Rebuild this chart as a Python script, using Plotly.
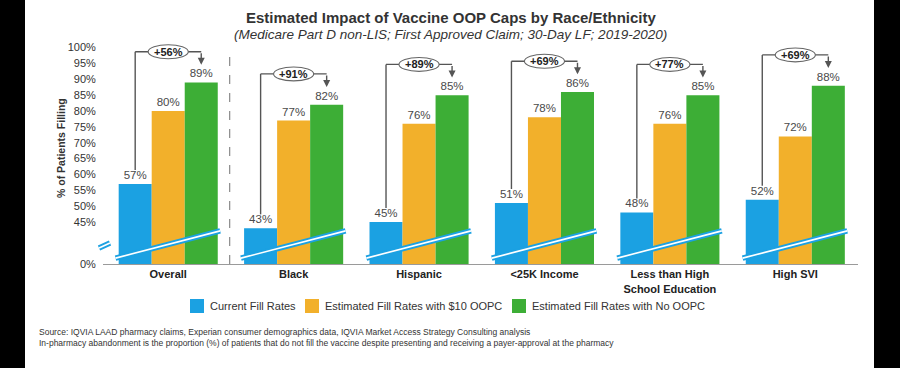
import plotly.graph_objects as go

# ---------------- data ----------------
categories = ["Overall", "Black", "Hispanic", "<25K Income",
              "Less than High<br>School Education", "High SVI"]
category_labels = ["Overall", "Black", "Hispanic", "&lt;25K Income",
                   "Less than High<br>School Education", "High SVI"]
current_fill = [57, 43, 45, 51, 48, 52]
fill_10_oopc = [80, 77, 76, 78, 76, 72]
fill_no_oopc = [89, 82, 85, 86, 85, 88]
increase_labels = ["+56%", "+91%", "+89%", "+69%", "+77%", "+69%"]
series_names = ["Current Fill Rates", "Estimated Fill Rates with $10 OOPC",
                "Estimated Fill Rates with No OOPC"]
y_ticks = [45, 50, 55, 60, 65, 70, 75, 80, 85, 90, 95, 100]

colors = ["#1BA1E2", "#F2B02B", "#3DAE36"]

# ---------------- layout constants ----------------
W, H = 900, 368
L, R, T, B = 103, 42, 40, 104
PW, PH = W - L - R, H - T - B
BREAK = 31.75          # axis position where "0%" sits (broken axis)
Y_TOP = 102.4
BARGAP = 0.21
BW = (1 - BARGAP) / 3  # width of one bar in category units
FONT = "Arial, Liberation Sans, Helvetica"


def px(xp):
    return (xp - L) / PW


def py(yp):
    return (H - B - yp) / PH


fig = go.Figure()
for vals, name, col in zip([current_fill, fill_10_oopc, fill_no_oopc], series_names, colors):
    fig.add_trace(go.Bar(
        x=categories, y=vals, name=name, marker=dict(color=col, line=dict(width=0)),
        text=["%d%%" % v for v in vals], texttemplate="%{text}",
        textposition="outside", cliponaxis=False,
        textfont=dict(family=FONT, size=11.5, color="#4a4a4a"),
        showlegend=False, hoverinfo="skip",
    ))

shapes = []
annotations = []

# dashed separator between Overall and the rest
shapes.append(dict(type="line", xref="x", yref="y", x0=0.49, x1=0.49, y0=BREAK, y1=98.5,
                   line=dict(color="#8a8a8a", width=1.2, dash="dash")))

for i in range(len(categories)):
    xb, xo, xg = i - BW, i, i + BW
    yb = fill_no_oopc[i] + 9.7
    # bracket
    shapes.append(dict(type="line", xref="x", yref="y", x0=xb, x1=xg, y0=yb, y1=yb,
                       line=dict(color="#555555", width=1.4)))
    shapes.append(dict(type="line", xref="x", yref="y", x0=xb, x1=xb, y0=yb,
                       y1=current_fill[i] + 4.4, line=dict(color="#555555", width=1.4)))
    annotations.append(dict(x=xg, y=fill_no_oopc[i] + 5.6, ax=xg, ay=yb, axref="x", ayref="y",
                            xref="x", yref="y", text="", showarrow=True, arrowhead=2,
                            arrowsize=1, arrowwidth=1.4, arrowcolor="#555555"))
    # oval with increase label
    shapes.append(dict(type="circle", xref="x", yref="y", x0=xo - 0.16, x1=xo + 0.16,
                       y0=yb - 2.2, y1=yb + 2.2, fillcolor="white",
                       line=dict(color="#666666", width=1.1)))
    annotations.append(dict(x=xo, y=yb, xref="x", yref="y", text="<b>%s</b>" % increase_labels[i],
                            showarrow=False, font=dict(family=FONT, size=11, color="#222")))
    # axis-break band across the bars
    for wdt, col in [(5.5, "#1BA1E2"), (1.6, "white")]:
        shapes.append(dict(type="line", xref="x", yref="y", x0=i - 0.42, x1=i + 0.414,
                           y0=BREAK + 1.85, y1=BREAK + 10.45,
                           line=dict(color=col, width=wdt), layer="above"))

# small break mark on the y axis
for wdt, col in [(5.5, "#1BA1E2"), (1.6, "white")]:
    shapes.append(dict(type="line", xref="paper", yref="paper", x0=px(99), x1=px(110),
                       y0=py(248), y1=py(243), line=dict(color=col, width=wdt)))

# custom legend
leg_y = 306
leg_items = [(190, 208), (305, 323), (512, 530)]
for (sx, tx), name, col in zip(leg_items, series_names, colors):
    shapes.append(dict(type="rect", xref="paper", yref="paper", x0=px(sx), x1=px(sx + 14),
                       y0=py(leg_y + 7), y1=py(leg_y - 7), fillcolor=col, line=dict(width=0)))
    annotations.append(dict(x=px(tx), y=py(leg_y), xref="paper", yref="paper", text=name,
                            showarrow=False, xanchor="left", yanchor="middle",
                            font=dict(family=FONT, size=11, color="#333")))

# black side borders
shapes.append(dict(type="rect", xref="paper", yref="paper", x0=px(0), x1=px(25), y0=py(H), y1=py(0),
                   fillcolor="black", line=dict(width=0)))
shapes.append(dict(type="rect", xref="paper", yref="paper", x0=px(874), x1=px(W), y0=py(H), y1=py(0),
                   fillcolor="black", line=dict(width=0)))

# titles
annotations.append(dict(x=px(451), y=py(18), xref="paper", yref="paper",
                        text="<b>Estimated Impact of Vaccine OOP Caps by Race/Ethnicity</b>",
                        showarrow=False, xanchor="center", yanchor="middle",
                        font=dict(family=FONT, size=15, color="#333")))
annotations.append(dict(x=px(450), y=py(35), xref="paper", yref="paper",
                        text="<i>(Medicare Part D non-LIS; First Approved Claim; 30-Day LF; 2019-2020)</i>",
                        showarrow=False, xanchor="center", yanchor="middle",
                        font=dict(family=FONT, size=13.5, color="#333")))
# y axis title
annotations.append(dict(x=px(53), y=py(148), xref="paper", yref="paper", textangle=-90,
                        text="<b>% of Patients Filling</b>", showarrow=False,
                        font=dict(family=FONT, size=10.5, color="#333")))
# source notes
annotations.append(dict(x=px(37), y=py(339), xref="paper", yref="paper", xanchor="left",
                        text="Source: IQVIA LAAD pharmacy claims, Experian consumer demographics data, IQVIA Market Access Strategy Consulting analysis",
                        showarrow=False, font=dict(family=FONT, size=8.5, color="#333")))
annotations.append(dict(x=px(37), y=py(350), xref="paper", yref="paper", xanchor="left",
                        text="In-pharmacy abandonment is the proportion (%) of patients that do not fill the vaccine despite presenting and receiving a payer-approval at the pharmacy",
                        showarrow=False, font=dict(family=FONT, size=8.5, color="#333")))

fig.update_layout(
    width=W, height=H, margin=dict(l=L, r=R, t=T, b=B, pad=0),
    paper_bgcolor="white", plot_bgcolor="white",
    barmode="group", bargap=BARGAP, bargroupgap=0,
    shapes=shapes, annotations=annotations, showlegend=False,
    xaxis=dict(type="category", categoryorder="array", categoryarray=categories,
               range=[-0.52, 5.5], tickvals=categories,
               ticktext=["<b>%s</b>" % c for c in category_labels],
               tickfont=dict(family=FONT, size=11, color="#222"),
               showline=True, linecolor="#9a9a9a", linewidth=1, ticks="", showgrid=False, zeroline=False),
    yaxis=dict(range=[BREAK, Y_TOP], tickvals=[BREAK] + y_ticks,
               ticktext=["0%"] + ["%d%%" % v for v in y_ticks],
               tickfont=dict(family=FONT, size=11, color="#333"),
               showgrid=False, zeroline=False, showline=False, ticks="outside", ticklen=4,
               tickcolor="rgba(0,0,0,0)"),
)

fig.write_html("out.html", config={"displayModeBar": False},
               post_script="document.body.style.margin='0';document.body.style.overflow='hidden';")
